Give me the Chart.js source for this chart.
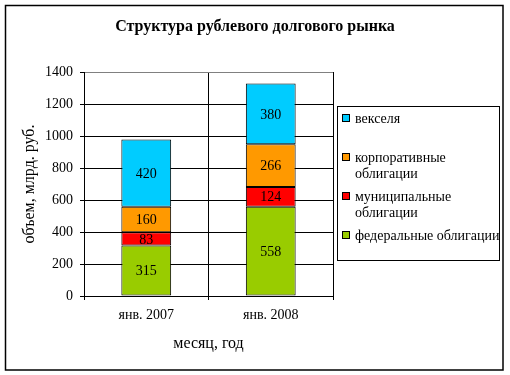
<!DOCTYPE html>
<html>
<head>
<meta charset="utf-8">
<script src="https://cdn.jsdelivr.net/npm/chart.js@4/dist/chart.umd.min.js"></script>
<style>
html,body{margin:0;padding:0;background:#fff;}
#wrap{width:510px;height:375px;position:relative;}
</style>
</head>
<body>
<div id="wrap"><canvas id="c" width="510" height="375"></canvas></div>
<script>
const chartTitle = 'Структура рублевого долгового рынка';
const categories = ['янв. 2007', 'янв. 2008'];
const seriesNames = ['федеральные облигации', 'муниципальные облигации', 'корпоративные облигации', 'векселя'];
const legendLines = [['федеральные облигации'], ['муниципальные', 'облигации'], ['корпоративные', 'облигации'], ['векселя']];
const federal = [315, 558];
const municipal = [83, 124];
const corporate = [160, 266];
const bills = [420, 380];
const yTicks = [0, 200, 400, 600, 800, 1000, 1200, 1400];
const yTitle = 'объем, млрд. руб.';
const xTitle = 'месяц, год';
const colors = ['#99CC00', '#FF0000', '#FF9900', '#00CCFF'];

const FONT = '"Liberation Serif", "Times New Roman", serif';
const seriesValues = [federal, municipal, corporate, bills];

const decor = {
  id: 'decor',
  beforeDraw(chart) {
    const ctx = chart.ctx;
    ctx.save();
    ctx.fillStyle = '#fff';
    ctx.fillRect(0, 0, chart.width, chart.height);
    ctx.restore();
  },
  afterDraw(chart) {
    const ctx = chart.ctx;
    ctx.save();
    ctx.strokeStyle = '#000';
    ctx.lineWidth = 1.5;
    ctx.strokeRect(5.5, 5.5, 497.5, 364.5);
    ctx.fillStyle = '#000';
    ctx.font = 'bold 16px ' + FONT;
    ctx.textAlign = 'center';
    ctx.textBaseline = 'middle';
    ctx.fillText(chartTitle, 255, 27);
    ctx.font = '14px ' + FONT;
    chart.data.datasets.forEach((ds, i) => {
      const meta = chart.getDatasetMeta(i);
      meta.data.forEach((bar, j) => {
        const y = (bar.y + bar.base) / 2;
        ctx.fillText(String(ds.data[j]), bar.x, y + 1);
      });
    });
    ctx.lineWidth = 1;
    ctx.strokeRect(337.5, 106.5, 162, 154);
    const itemY = [235, 196, 157, 118];
    ctx.textAlign = 'left';
    for (let i = 3; i >= 0; i--) {
      const y = itemY[i];
      ctx.fillStyle = colors[i];
      ctx.fillRect(342, y - 4, 8, 8);
      ctx.strokeStyle = '#000';
      ctx.strokeRect(342.5, y - 3.5, 7, 7);
      ctx.fillStyle = '#000';
      legendLines[i].forEach((line, k) => {
        ctx.fillText(line, 355, y + 1 + k * 16);
      });
    }
    ctx.restore();
  }
};

new Chart(document.getElementById('c'), {
  type: 'bar',
  data: {
    labels: categories,
    datasets: seriesValues.map((vals, i) => ({
      label: seriesNames[i],
      data: vals,
      backgroundColor: colors[i],
      borderColor: '#000',
      borderWidth: 1,
      borderSkipped: false,
      barPercentage: 0.4,
      categoryPercentage: 1.0
    }))
  },
  options: {
    responsive: false,
    animation: false,
    devicePixelRatio: 1,
    layout: { padding: { left: 0, right: 177, top: 72, bottom: 0 } },
    plugins: { legend: { display: false }, title: { display: false }, tooltip: { enabled: false } },
    scales: {
      x: {
        stacked: true,
        grid: { display: true, offset: true, color: (c) => (c.index === 2 ? '#808080' : '#000'), tickColor: '#000', tickLength: 4, lineWidth: 1 },
        border: { display: true, color: '#000' },
        ticks: { color: '#000', font: { family: FONT, size: 14 }, padding: 7, maxRotation: 0 },
        title: { display: true, text: xTitle, color: '#000', font: { family: FONT, size: 16 }, padding: { top: 0, bottom: 22 } },
        afterFit(s) { s.height = 79; }
      },
      y: {
        stacked: true,
        min: 0, max: 1400,
        afterBuildTicks(s) { s.ticks = yTicks.map(v => ({ value: v })); },
        grid: { color: (c) => (c.tick && c.tick.value === 1400 ? '#808080' : '#000'), tickColor: '#000', tickLength: 4, lineWidth: 1 },
        border: { display: true, color: '#000' },
        ticks: { color: '#000', font: { family: FONT, size: 14 }, padding: 7, callback: (v) => String(v) },
        title: { display: true, text: yTitle, color: '#000', font: { family: FONT, size: 16 }, padding: { top: 20, bottom: 0 } },
        afterFit(s) { s.width = 84; }
      }
    }
  },
  plugins: [decor]
});
</script>
</body>
</html>
